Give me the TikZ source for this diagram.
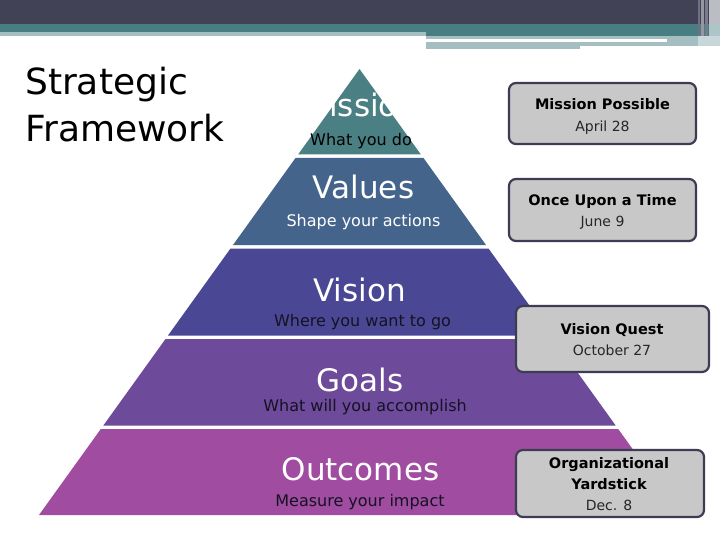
\documentclass[tikz,border=0pt]{standalone}
\usepackage{fontspec}
\setmainfont{DejaVu Sans}
\definecolor{hdark}{RGB}{65,66,86}
\definecolor{hteal}{RGB}{71,126,130}
\definecolor{hlight}{RGB}{164,190,193}
\definecolor{cmission}{RGB}{74,128,131}
\definecolor{cvalues}{RGB}{69,100,140}
\definecolor{cvision}{RGB}{74,72,148}
\definecolor{cgoals}{RGB}{110,74,155}
\definecolor{coutcomes}{RGB}{160,76,160}
\definecolor{boxfill}{RGB}{200,200,200}
\definecolor{boxline}{RGB}{60,60,85}
\definecolor{subdark}{RGB}{20,18,35}
\begin{document}
\begin{tikzpicture}[x=1pt,y=-1pt,
  ttl/.style={font=\fontsize{31}{36}\selectfont, text=white, inner sep=0pt, anchor=base},
  sub/.style={font=\fontsize{16}{19}\selectfont, inner sep=0pt, anchor=base, text=subdark},
  card/.style={draw=boxline, fill=boxfill, line width=2.2pt, rounded corners=7pt, inner sep=0pt},
  bt/.style={font=\bfseries\fontsize{14.5}{17}\selectfont, inner sep=0pt, anchor=base, text=black},
  bd/.style={font=\fontsize{14}{17}\selectfont, inner sep=0pt, anchor=base, text=black!85}]
\useasboundingbox (0,0) rectangle (720,540);
\fill[white] (0,0) rectangle (720,540);
% header
\fill[hdark] (0,0) rectangle (720,24);
\fill[hteal] (0,24) rectangle (426,32);
\fill[hlight] (0,32) rectangle (426,36);
\fill[hteal] (426,24) rectangle (720,36);
\fill[hlight] (426,36) rectangle (667,39);
\fill[hlight] (426,42) rectangle (580,49);
\fill[hlight] (580,42) rectangle (667,46);
\fill[hlight] (667,36) rectangle (698,46);
\fill[white!25!hdark] (698,0) rectangle (700,36);
\fill[white!45!hdark] (701,0) rectangle (704,36);
\fill[white!30!hdark] (705,0) rectangle (708,36);
\fill[white!65!hdark] (709,0) rectangle (720,24);
\fill[white!55!hteal] (709,24) rectangle (720,36);
\fill[white!40!hlight] (698,36) rectangle (720,46);
% title
\node[font=\fontsize{36}{42}\selectfont, inner sep=0pt, anchor=base west] (t1) at (25,95) {Strategic};
\node[font=\fontsize{36}{42}\selectfont, inner sep=0pt, anchor=base west] (t2) at (25,142) {Framework};
% pyramid layers
\fill[cmission] (359.5,69) -- (420.9,154.5) -- (298.1,154.5) -- cycle;
\fill[cvalues] (295.5,158) -- (423.5,158) -- (486.0,245) -- (233.0,245) -- cycle;
\fill[cvision] (230.5,248.5) -- (488.5,248.5) -- (551.0,335.5) -- (168.0,335.5) -- cycle;
\fill[cgoals] (165.5,339) -- (553.5,339) -- (615.8,425.7) -- (103.2,425.7) -- cycle;
\fill[coutcomes] (100.8,429) -- (618.2,429) -- (680.0,515) -- (39.0,515) -- cycle;
% pyramid texts
\node[ttl] (m1) at (360,117) {Mission};
\node[sub, text=black] (m2) at (361,146) {What you do};
\node[ttl] (v1) at (363.5,199) {Values};
\node[sub, text=white] (v2) at (363.5,226) {Shape your actions};
\node[ttl] (s1) at (359.5,301) {Vision};
\node[sub] (s2) at (362.5,326) {Where you want to go};
\node[ttl] (g1) at (360,391) {Goals};
\node[sub] (g2) at (365,411) {What will you accomplish};
\node[ttl] (o1) at (360.5,480) {Outcomes};
\node[sub] (o2) at (360,506) {Measure your impact};
% event cards
\node[card, minimum width=187pt, minimum height=61pt] (c1) at (602.5,113.5) {};
\node[card, minimum width=187pt, minimum height=62pt] (c2) at (602.5,210) {};
\node[card, minimum width=193pt, minimum height=66pt] (c3) at (612.5,339) {};
\node[card, minimum width=188pt, minimum height=67pt] (c4) at (610,483.5) {};
\node[bt] (c1a) at (602.5,110) {Mission Possible};
\node[bd] (c1b) at (602.5,131.5) {April 28};
\node[bt] (c2a) at (602.5,206) {Once Upon a Time};
\node[bd] (c2b) at (602.5,226.5) {June 9};
\node[bt] (c3a) at (612,334.5) {Vision Quest};
\node[bd] (c3b) at (612,355) {October 27};
\node[bt] (c4a) at (609,468) {Organizational};
\node[bt] (c4b) at (609,489.5) {Yardstick};
\node[bd] (c4c) at (609,510) {Dec. 8};
\end{tikzpicture}
\end{document}
